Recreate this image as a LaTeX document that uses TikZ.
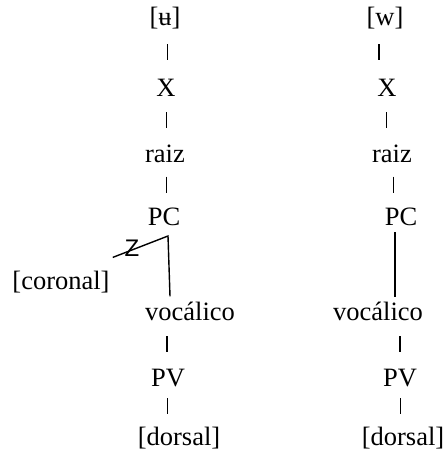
\documentclass[tikz,border=0pt]{standalone}
\usepackage{fontspec}
\setmainfont{Liberation Serif}
\newfontfamily\delinkfont{Liberation Sans}
\usetikzlibrary{calc}
\begin{document}
\begin{tikzpicture}[x=1pt,y=1pt,
  seg/.style={font=\fontsize{26.5}{30}\selectfont, inner sep=0pt, anchor=base},
  bar/.style={line width=1.6pt},
  branch/.style={line width=1.4pt},
  delink/.style={font=\delinkfont\fontsize{24}{27}\selectfont, inner sep=0pt}]
\useasboundingbox (0,0) rectangle (446,-452);

% left tree: [ʉ]
\node[seg] (lu)   at (165,-26)  {[ʉ]};
\node[seg] (lx)   at (166,-96)  {X};
\node[seg] (lr)   at (165,-162) {raiz};
\node[seg] (lpc)  at (164,-225) {PC};
\node[seg] (lcor) at (61,-289)  {[coronal]};
\node[seg] (lvoc) at (190,-320) {vocálico};
\node[seg] (lpv)  at (168,-386) {PV};
\node[seg] (ldor) at (179,-445) {[dorsal]};

% right tree: [w]
\node[seg] (ru)   at (385,-26)  {[w]};
\node[seg] (rx)   at (387,-96)  {X};
\node[seg] (rr)   at (392,-162) {raiz};
\node[seg] (rpc)  at (401,-225) {PC};
\node[seg] (rvoc) at (378,-320) {vocálico};
\node[seg] (rpv)  at (400,-386) {PV};
\node[seg] (rdor) at (403,-445) {[dorsal]};

% short association bars between tiers
\foreach \a/\b/\dx in {lu/lx/2, lx/lr/1, lr/lpc/2, lvoc/lpv/-12, lpv/ldor/-6,
                        ru/rx/-7, rx/rr/-3, rr/rpc/-3, rvoc/rpv/11, rpv/rdor/-1}
  \draw[bar] ([xshift=\dx pt]$(\a.base)!.5!(\b.north)$) ++(0,8) -- ++(0,-16);

% place node of the left tree branching to both daughters
\coordinate (lnode) at ([xshift=4pt,yshift=-11pt]lpc.base);
\draw[branch] ([xshift=3pt,yshift=13pt]lcor.north east) -- (lnode)
  -- ([xshift=2pt,yshift=5pt]lnode |- lvoc.north);
\node[delink] (cut) at (132,-248) {Z};

% place node of the right tree
\coordinate (rnode) at ([xshift=-6pt,yshift=-7pt]rpc.base);
\draw[branch] (rnode) -- ([yshift=4pt]rnode |- rvoc.north);
\end{tikzpicture}
\end{document}
